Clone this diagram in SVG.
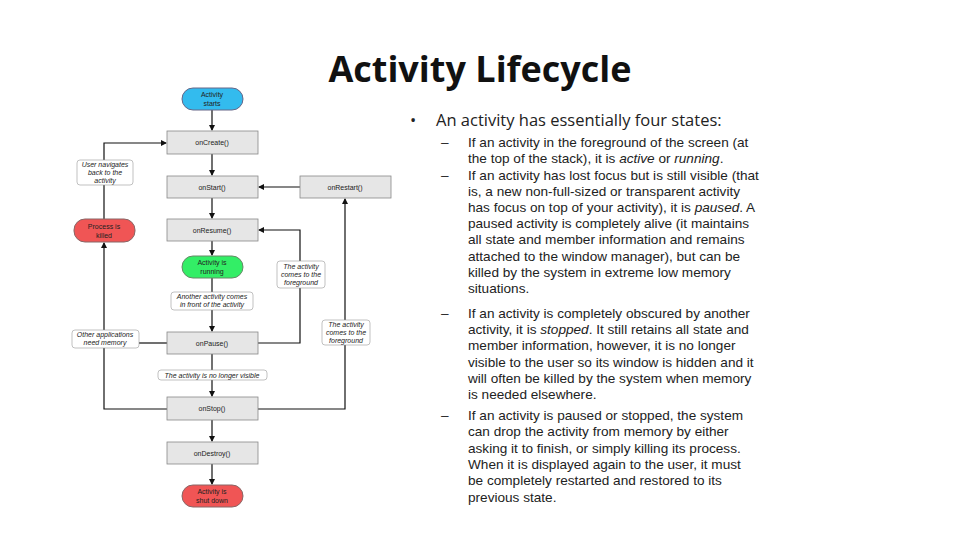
<svg xmlns="http://www.w3.org/2000/svg" width="960" height="540" viewBox="0 0 960 540">
<style>
.box{fill:#e6e6e6;stroke:#888;stroke-width:0.8}
.t{font-family:"Liberation Sans",Arial,sans-serif;font-size:7px;fill:#222;text-anchor:middle}
.lab{fill:#fff;stroke:#999;stroke-width:0.6}
.li{font-style:italic}
.c{fill:none;stroke:#111;stroke-width:1.2}
.b{font-family:"Liberation Sans",Arial,sans-serif;font-size:13.6px;fill:#222}
</style>
<defs><marker id="a" markerWidth="6" markerHeight="6" refX="5" refY="3" orient="auto" markerUnits="userSpaceOnUse"><path d="M0,0L6,3L0,6z" fill="#111"/></marker></defs>
<rect width="960" height="540" fill="#fff"/>
<text x="480" y="82" text-anchor="middle" font-family="'Open Sans','Liberation Sans',sans-serif" font-weight="bold" font-size="36" fill="#111">Activity Lifecycle</text>
<g id="connectors">
<path class="c" d="M212,110V130" marker-end="url(#a)"/>
<path class="c" d="M212,154V175" marker-end="url(#a)"/>
<path class="c" d="M212,198V218" marker-end="url(#a)"/>
<path class="c" d="M212,241V255" marker-end="url(#a)"/>
<path class="c" d="M212,278V331" marker-end="url(#a)"/>
<path class="c" d="M212,354V396" marker-end="url(#a)"/>
<path class="c" d="M212,420V441" marker-end="url(#a)"/>
<path class="c" d="M212,464V484" marker-end="url(#a)"/>
<path class="c" d="M104,219V143H166" marker-end="url(#a)"/>
<path class="c" d="M167,409H104V243" marker-end="url(#a)"/>
<path class="c" d="M167,343H139"/>
<path class="c" d="M258,343H300V230H259" marker-end="url(#a)"/>
<path class="c" d="M258,409H345V199" marker-end="url(#a)"/>
<path class="c" d="M300,187H259" marker-end="url(#a)"/>
</g>
<g id="start"><rect x="182" y="88" width="61" height="22" rx="11" fill="#33bbee" stroke="#668"/><text class="t" x="212" y="97">Activity</text><text class="t" x="212" y="106">starts</text></g>
<g id="onCreate"><rect class="box" x="167" y="131" width="91" height="23"/><text class="t" x="212" y="145">onCreate()</text></g>
<g id="onStart"><rect class="box" x="167" y="176" width="91" height="22"/><text class="t" x="212" y="190">onStart()</text></g>
<g id="onRestart"><rect class="box" x="300" y="176" width="91" height="22"/><text class="t" x="345" y="190">onRestart()</text></g>
<g id="killed"><rect x="74" y="219" width="61" height="23" rx="11" fill="#f05555" stroke="#866"/><text class="t" x="104" y="229">Process is</text><text class="t" x="104" y="238">killed</text></g>
<g id="onResume"><rect class="box" x="167" y="219" width="91" height="22"/><text class="t" x="212" y="233">onResume()</text></g>
<g id="running"><rect x="182" y="256" width="61" height="22" rx="11" fill="#33ee66" stroke="#686"/><text class="t" x="212" y="265">Activity is</text><text class="t" x="212" y="274">running</text></g>
<g id="onPause"><rect class="box" x="167" y="332" width="91" height="22"/><text class="t" x="212" y="346">onPause()</text></g>
<g id="onStop"><rect class="box" x="167" y="397" width="91" height="23"/><text class="t" x="212" y="411">onStop()</text></g>
<g id="onDestroy"><rect class="box" x="167" y="442" width="91" height="22"/><text class="t" x="212" y="456">onDestroy()</text></g>
<g id="shutdown"><rect x="182" y="485" width="61" height="22" rx="11" fill="#f05555" stroke="#866"/><text class="t" x="212" y="494">Activity is</text><text class="t" x="212" y="503">shut down</text></g>
<g id="l1"><rect class="lab" x="77" y="160" width="56" height="25" rx="3"/><text class="t li" x="105" y="167">User navigates</text><text class="t li" x="105" y="175">back to the</text><text class="t li" x="105" y="183">activity</text></g>
<g id="l2"><rect class="lab" x="277" y="261" width="48" height="27" rx="3"/><text class="t li" x="301" y="269">The activity</text><text class="t li" x="301" y="277">comes to the</text><text class="t li" x="301" y="285">foreground</text></g>
<g id="l3"><rect class="lab" x="171" y="292" width="82" height="18" rx="3"/><text class="t li" x="212" y="299">Another activity comes</text><text class="t li" x="212" y="307">in front of the activity</text></g>
<g id="l4"><rect class="lab" x="72" y="330" width="67" height="18" rx="3"/><text class="t li" x="105" y="337">Other applications</text><text class="t li" x="105" y="345">need memory</text></g>
<g id="l5"><rect class="lab" x="322" y="320" width="48" height="25" rx="3"/><text class="t li" x="346" y="327">The activity</text><text class="t li" x="346" y="335">comes to the</text><text class="t li" x="346" y="343">foreground</text></g>
<g id="l6"><rect class="lab" x="158" y="370" width="109" height="10" rx="3"/><text class="t li" x="212" y="378">The activity is no longer visible</text></g>
<g id="text">
<text x="410" y="126" font-family="'Open Sans','Liberation Sans',sans-serif" font-size="16.5" fill="#222">•</text>
<text x="436" y="126" font-family="'Open Sans','Liberation Sans',sans-serif" font-size="16.5" fill="#222">An activity has essentially four states:</text>
<g class="b">
<text x="441" y="147">–</text><text x="441" y="180">–</text><text x="441" y="318">–</text><text x="441" y="420">–</text>
<text x="468" y="147">If an activity in the foreground of the screen (at</text>
<text x="468" y="163">the top of the stack), it is <tspan font-style="italic">active</tspan> or <tspan font-style="italic">running</tspan>.</text>
<text x="468" y="180">If an activity has lost focus but is still visible (that</text>
<text x="468" y="196">is, a new non-full-sized or transparent activity</text>
<text x="468" y="212">has focus on top of your activity), it is <tspan font-style="italic">paused</tspan>. A</text>
<text x="468" y="228">paused activity is completely alive (it maintains</text>
<text x="468" y="244">all state and member information and remains</text>
<text x="468" y="261">attached to the window manager), but can be</text>
<text x="468" y="277">killed by the system in extreme low memory</text>
<text x="468" y="293">situations.</text>
<text x="468" y="318">If an activity is completely obscured by another</text>
<text x="468" y="334">activity, it is <tspan font-style="italic">stopped</tspan>. It still retains all state and</text>
<text x="468" y="350">member information, however, it is no longer</text>
<text x="468" y="367">visible to the user so its window is hidden and it</text>
<text x="468" y="383">will often be killed by the system when memory</text>
<text x="468" y="399">is needed elsewhere.</text>
<text x="468" y="420">If an activity is paused or stopped, the system</text>
<text x="468" y="436">can drop the activity from memory by either</text>
<text x="468" y="453">asking it to finish, or simply killing its process.</text>
<text x="468" y="469">When it is displayed again to the user, it must</text>
<text x="468" y="485">be completely restarted and restored to its</text>
<text x="468" y="502">previous state.</text>
</g>
</g>
</svg>
